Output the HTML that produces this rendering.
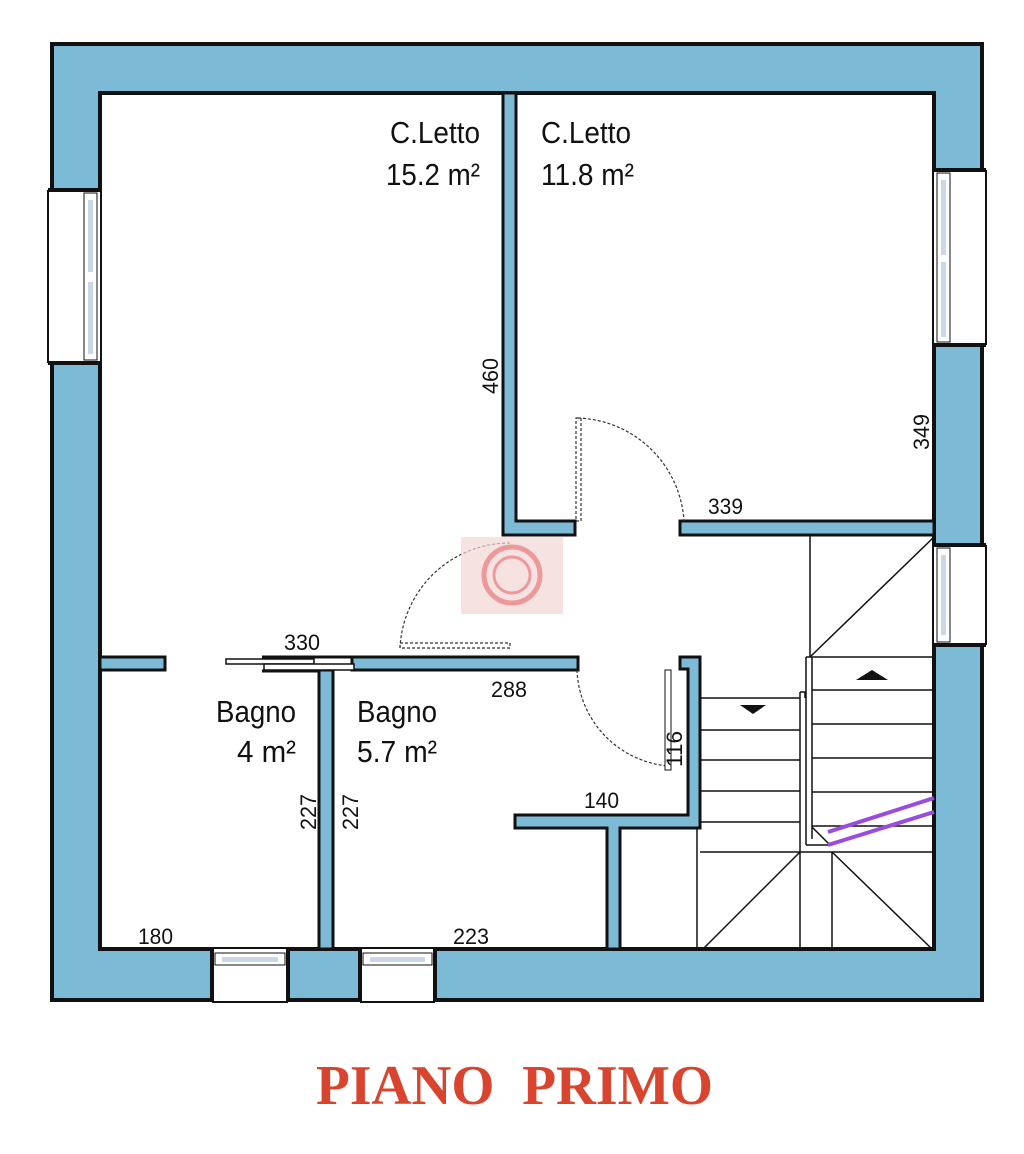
<!DOCTYPE html>
<html><head><meta charset="utf-8"><style>
html,body{margin:0;padding:0;background:#fff;}
svg{display:block;}
text{font-family:"Liberation Sans",sans-serif;fill:#111;}
</style></head><body>
<svg width="1024" height="1154" viewBox="0 0 1024 1154" xmlns="http://www.w3.org/2000/svg">
<g stroke="#111" stroke-width="4" fill="#7dbad5">
<rect x="52" y="44" width="930" height="956"/>
</g>
<rect x="100" y="93" width="834" height="856" fill="#fff" stroke="#111" stroke-width="4"/>
<g fill="#fff" stroke="#111" stroke-width="2">
<rect x="48" y="190" width="52" height="173" stroke="none"/>
<line x1="48" y1="190" x2="48" y2="363"/>
<line x1="48" y1="190" x2="100" y2="190" stroke-width="4"/><line x1="48" y1="363" x2="100" y2="363" stroke-width="4"/>
<rect x="84" y="193" width="13" height="167" fill="#fff" stroke-width="1"/>
<rect x="934" y="170" width="52" height="175" stroke="none"/>
<line x1="986" y1="170" x2="986" y2="345"/>
<line x1="934" y1="170" x2="986" y2="170" stroke-width="4"/><line x1="934" y1="345" x2="986" y2="345" stroke-width="4"/>
<rect x="937" y="173" width="13" height="169" stroke-width="1"/>
<rect x="934" y="545" width="52" height="100" stroke="none"/>
<line x1="986" y1="545" x2="986" y2="645"/>
<line x1="934" y1="545" x2="986" y2="545" stroke-width="4"/><line x1="934" y1="645" x2="986" y2="645" stroke-width="4"/>
<rect x="937" y="548" width="13" height="94" stroke-width="1"/>
<rect x="212" y="949" width="76" height="53" stroke="none"/>
<line x1="212" y1="1002" x2="288" y2="1002"/>
<line x1="212" y1="949" x2="212" y2="1002" stroke-width="4"/><line x1="288" y1="949" x2="288" y2="1002" stroke-width="4"/>
<rect x="215" y="953" width="70" height="12" stroke-width="1"/>
<rect x="360" y="949" width="75" height="53" stroke="none"/>
<line x1="360" y1="1002" x2="435" y2="1002"/>
<line x1="360" y1="949" x2="360" y2="1002" stroke-width="4"/><line x1="435" y1="949" x2="435" y2="1002" stroke-width="4"/>
<rect x="363" y="953" width="69" height="12" stroke-width="1"/>
</g>
<g fill="#c8d8e8" stroke="none">
<rect x="88" y="200" width="5" height="72"/><rect x="88" y="282" width="5" height="72"/>
<rect x="941" y="180" width="5" height="75"/><rect x="941" y="262" width="5" height="75"/>
<rect x="941" y="555" width="5" height="80"/>
<rect x="222" y="957" width="56" height="5"/><rect x="370" y="957" width="55" height="5"/>
</g>
<g fill="#7dbad5" stroke="#111" stroke-width="3">
<path d="M503 93 L516 93 L516 521 L575 521 L575 535 L503 535 Z"/>
<rect x="680" y="521" width="254" height="14"/>
<rect x="100" y="657" width="65" height="13"/>
<rect x="352" y="657" width="226" height="13"/>
<rect x="319" y="670" width="14" height="279"/>
<path d="M680 657 L700 657 L700 828 L620 828 L620 949 L607 949 L607 828 L515 828 L515 815 L688 815 L688 669 L680 669 Z"/>
</g>
<g fill="#fff" stroke="#111" stroke-width="1.5">
<rect x="226" y="659" width="88" height="5"/>
<rect x="264" y="664" width="90" height="6"/>
<line x1="262" y1="657" x2="352" y2="657" stroke-width="3"/>
<line x1="262" y1="671" x2="319" y2="671" stroke-width="3"/>
</g>
<g fill="none" stroke="#333" stroke-width="1.2" stroke-dasharray="3,2">
<path d="M578 418 A110 110 0 0 1 684 521"/>
<rect x="576" y="418" width="5" height="103"/>
<path d="M510 543 A110 110 0 0 0 400 648"/>
<rect x="400" y="643" width="110" height="5"/>
<path d="M577 670 A100 100 0 0 0 668 766"/>
</g>
<rect x="665" y="670" width="6" height="100" fill="#fff" stroke="#111" stroke-width="1"/>
<rect x="461" y="537" width="102" height="77" fill="#f4d6d6" opacity="0.7"/>
<circle cx="512" cy="575" r="28" fill="none" stroke="#e99" stroke-width="5"/>
<circle cx="512" cy="575" r="18" fill="none" stroke="#e99" stroke-width="3"/>
<g stroke="#111" stroke-width="1.5" fill="none">
<line x1="810" y1="535" x2="810" y2="657"/>
<line x1="934" y1="537" x2="810" y2="657"/>
<line x1="806" y1="657" x2="934" y2="657"/>
<line x1="806" y1="657" x2="806" y2="845"/>
<line x1="812" y1="657" x2="812" y2="839"/>
<line x1="806" y1="845" x2="830" y2="845"/>
<line x1="812" y1="827" x2="830" y2="845"/>
<line x1="812" y1="690" x2="934" y2="690"/><line x1="812" y1="724" x2="934" y2="724"/><line x1="812" y1="758" x2="934" y2="758"/><line x1="812" y1="792" x2="934" y2="792"/><line x1="812" y1="826" x2="934" y2="826"/>
<line x1="700" y1="698" x2="800" y2="698"/><line x1="700" y1="730" x2="800" y2="730"/><line x1="700" y1="760" x2="800" y2="760"/><line x1="700" y1="791" x2="800" y2="791"/><line x1="700" y1="822" x2="800" y2="822"/><line x1="700" y1="852" x2="934" y2="852"/>
<line x1="800" y1="692" x2="800" y2="949"/><line x1="805" y1="692" x2="805" y2="698"/>
<line x1="800" y1="692" x2="806" y2="692"/>
<line x1="697" y1="828" x2="697" y2="949"/>
<line x1="832" y1="852" x2="832" y2="949"/>
<line x1="800" y1="852" x2="703" y2="949"/>
<line x1="832" y1="852" x2="932" y2="949"/>
</g>
<polygon points="740,705 766,705 753,714" fill="#111"/>
<polygon points="856,680 888,680 872,670" fill="#111"/>
<g stroke="#9a4ddc" stroke-width="4"><line x1="828" y1="832" x2="934" y2="798"/><line x1="828" y1="845" x2="934" y2="812"/></g>
<g font-size="31" lengthAdjust="spacingAndGlyphs">
<text x="390" y="143" textLength="90" lengthAdjust="spacingAndGlyphs">C.Letto</text>
<text x="386" y="185" textLength="94" lengthAdjust="spacingAndGlyphs">15.2 m²</text>
<text x="541" y="143" textLength="90" lengthAdjust="spacingAndGlyphs">C.Letto</text>
<text x="541" y="185" textLength="93" lengthAdjust="spacingAndGlyphs">11.8 m²</text>
<text x="216" y="722" textLength="80" lengthAdjust="spacingAndGlyphs">Bagno</text>
<text x="237" y="762" textLength="59" lengthAdjust="spacingAndGlyphs">4 m²</text>
<text x="357" y="722" textLength="80" lengthAdjust="spacingAndGlyphs">Bagno</text>
<text x="357" y="762" textLength="80" lengthAdjust="spacingAndGlyphs">5.7 m²</text>
</g>
<g font-size="22">
<text x="708" y="514" textLength="35" lengthAdjust="spacingAndGlyphs">339</text>
<text x="284" y="650" textLength="36" lengthAdjust="spacingAndGlyphs">330</text>
<text x="491" y="697" textLength="36" lengthAdjust="spacingAndGlyphs">288</text>
<text x="584" y="808" textLength="35" lengthAdjust="spacingAndGlyphs">140</text>
<text x="138" y="944" textLength="35" lengthAdjust="spacingAndGlyphs">180</text>
<text x="453" y="944" textLength="36" lengthAdjust="spacingAndGlyphs">223</text>
<text transform="translate(498,394) rotate(-90)" textLength="36" lengthAdjust="spacingAndGlyphs">460</text>
<text transform="translate(929,450) rotate(-90)" textLength="36" lengthAdjust="spacingAndGlyphs">349</text>
<text transform="translate(682,767) rotate(-90)" textLength="36" lengthAdjust="spacingAndGlyphs">116</text>
<text transform="translate(316,830) rotate(-90)" textLength="36" lengthAdjust="spacingAndGlyphs">227</text>
<text transform="translate(358,830) rotate(-90)" textLength="36" lengthAdjust="spacingAndGlyphs">227</text>
</g>
<text x="316" y="1104" textLength="397" lengthAdjust="spacingAndGlyphs" font-weight="bold" font-size="56" style="fill:#d9442e;font-family:'Liberation Serif',serif" xml:space="preserve">PIANO  PRIMO</text>
</svg>
</body></html>
